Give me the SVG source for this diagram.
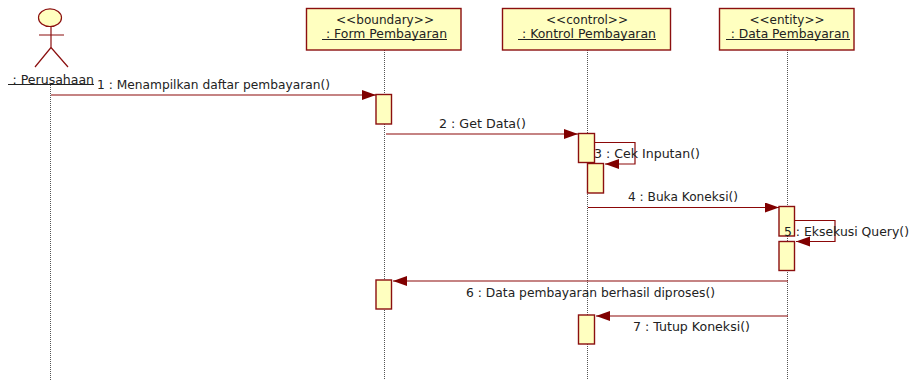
<svg xmlns="http://www.w3.org/2000/svg" width="909" height="380" viewBox="0 0 909 380">
<style>
text{font-family:"DejaVu Sans",Verdana,sans-serif;font-size:11.5px;fill:#222}
.m{text-anchor:middle}
.box{fill:#ffffc0;stroke:#8b0f0f;stroke-width:1.4}
.act{fill:#ffffc0;stroke:#8b0f0f;stroke-width:1.4}
.life{stroke:#555;stroke-width:1;stroke-dasharray:1 1;fill:none}
.msg{stroke:#8b0808;stroke-width:1.2;fill:none}
.head{fill:#800000;stroke:none}
.ul{stroke:#222;stroke-width:1}
.actor{fill:none;stroke:#8b0f0f;stroke-width:1.2}
</style>
<defs>
<marker id="arrow" markerUnits="userSpaceOnUse" markerWidth="14" markerHeight="12" refX="14" refY="5" orient="auto"><path class="head" d="M0 0L14 5L0 10Z"/></marker>
</defs>
<g id="lifelines">
<path class="life" d="M50.5 85V380"/>
<path class="life" d="M384.500 50V380"/>
<path class="life" d="M587.500 50V380"/>
<path class="life" d="M787.500 50V380"/>
</g>
<g id="actor-perusahaan">
<ellipse cx="50" cy="17.7" rx="11.500" ry="8.800" fill="#ffffc0" stroke="#8b0f0f" stroke-width="1.2"/>
<path class="actor" d="M51 26.500V47.500M39 35H64M51 47.500L35 67M51 47.500L68 67"/>
<text class="m" x="53.300" y="84" textLength="81.500" lengthAdjust="spacingAndGlyphs">: Perusahaan</text>
<path class="ul" d="M8 84.500H94"/>
</g>
<g id="node-boundary">
<rect class="box" x="306.500" y="8.500" width="154.500" height="41.500"/>
<text class="m" x="385" y="24" textLength="98" lengthAdjust="spacingAndGlyphs">&lt;&lt;boundary&gt;&gt;</text>
<text class="m" x="386.500" y="38" textLength="121" lengthAdjust="spacingAndGlyphs">: Form Pembayaran</text>
<path class="ul" d="M322 39.500H447"/>
</g>
<g id="node-control">
<rect class="box" x="502.500" y="8.500" width="168" height="41.500"/>
<text class="m" x="587" y="24" textLength="82" lengthAdjust="spacingAndGlyphs">&lt;&lt;control&gt;&gt;</text>
<text class="m" x="589" y="38" textLength="134" lengthAdjust="spacingAndGlyphs">: Kontrol Pembayaran</text>
<path class="ul" d="M518 39.500H656"/>
</g>
<g id="node-entity">
<rect class="box" x="719.500" y="8.500" width="134.500" height="41.500"/>
<text class="m" x="787" y="24" textLength="75" lengthAdjust="spacingAndGlyphs">&lt;&lt;entity&gt;&gt;</text>
<text class="m" x="790" y="38" textLength="118.500" lengthAdjust="spacingAndGlyphs">: Data Pembayaran</text>
<path class="ul" d="M726 39.500H850"/>
</g>
<g id="activations">
<rect class="act" x="376" y="94.500" width="15.500" height="29.500"/>
<rect class="act" x="578.500" y="133.500" width="16" height="29"/>
<rect class="act" x="587.500" y="163.500" width="16" height="29.500"/>
<rect class="act" x="779" y="206.500" width="15.500" height="29.500"/>
<rect class="act" x="779" y="241.500" width="15.500" height="29"/>
<rect class="act" x="376" y="280" width="15.500" height="29"/>
<rect class="act" x="578.500" y="315" width="16" height="29"/>
</g>
<g id="connectors">
<path class="msg" marker-end="url(#arrow)" d="M51 95H376"/>
<path class="msg" marker-end="url(#arrow)" d="M386 134H578"/>
<path class="msg" marker-end="url(#arrow)" d="M595 142.500H635V164H605"/>
<path class="msg" marker-end="url(#arrow)" d="M588 207.500H779"/>
<path class="msg" marker-end="url(#arrow)" d="M795 220.500H835V241.500H796"/>
<path class="msg" marker-end="url(#arrow)" d="M788 281H393"/>
<path class="msg" marker-end="url(#arrow)" d="M788 316H596"/>
</g>
<g id="labels">
<text x="97" y="89" textLength="233" lengthAdjust="spacingAndGlyphs">1 : Menampilkan daftar pembayaran()</text>
<text x="439" y="128" textLength="87" lengthAdjust="spacingAndGlyphs">2 : Get Data()</text>
<text x="594" y="158" textLength="106" lengthAdjust="spacingAndGlyphs">3 : Cek Inputan()</text>
<text x="628" y="201" textLength="110" lengthAdjust="spacingAndGlyphs">4 : Buka Koneksi()</text>
<text x="784" y="236" textLength="125" lengthAdjust="spacingAndGlyphs">5 : Eksekusi Query()</text>
<text x="466" y="297" textLength="249" lengthAdjust="spacingAndGlyphs">6 : Data pembayaran berhasil diproses()</text>
<text x="633" y="331" textLength="117" lengthAdjust="spacingAndGlyphs">7 : Tutup Koneksi()</text>
</g>
</svg>
